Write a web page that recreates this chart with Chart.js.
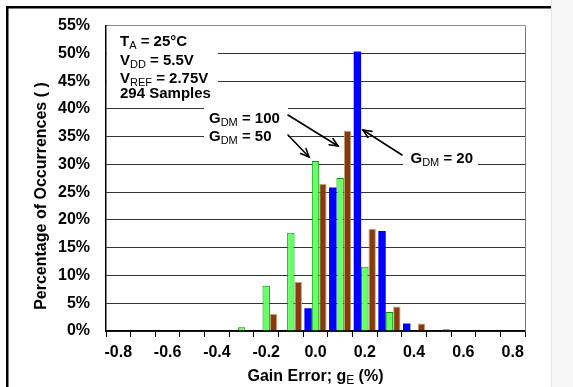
<!DOCTYPE html>
<html><head><meta charset="utf-8">
<script src="https://cdn.jsdelivr.net/npm/chart.js@4"></script>
<style>html,body{margin:0;padding:0;background:#fff;}canvas{display:block;}</style>
</head><body>
<canvas id="c" width="573" height="387"></canvas>
<script>
// ---- data ----
const categories = ['-0.8','-0.7','-0.6','-0.5','-0.4','-0.3','-0.2','-0.1','0.0','0.1','0.2','0.3','0.4','0.5','0.6','0.7','0.8'];
const tickLabels = ['-0.8','','-0.6','','-0.4','','-0.2','','0.0','','0.2','','0.4','','0.6','','0.8'];
const gdm20  = [null,null,null,null,null,null,null,null,4.08,25.85,50.34,18.03,1.36,null,null,null,null];
const gdm50  = [null,null,null,null,null,0.68,8.16,17.69,30.61,27.55,11.56,3.40,null,null,null,null,null];
const gdm100 = [null,null,null,null,null,null,3.06,8.84,26.53,36.05,18.37,4.42,1.36,0.34,null,null,null];
const yMin = 0, yMax = 55, yStep = 5;

const FONT = '"Liberation Sans", Arial, sans-serif';

function drawRich(c, x, y, parts, size, align) {
  const mainF = `bold ${size}px ${FONT}`;
  const subF = `${Math.round(size*0.72)}px ${FONT}`;
  let w = 0;
  parts.forEach(p => { c.font = p[1] ? subF : mainF; w += c.measureText(p[0]).width; });
  let cx = align === 'center' ? x - w/2 : x;
  c.textAlign = 'left'; c.textBaseline = 'alphabetic';
  parts.forEach(p => {
    c.font = p[1] ? subF : mainF;
    c.fillText(p[0], cx, p[1] ? y + 3 : y);
    cx += c.measureText(p[0]).width;
  });
}
function arrow(c, x1, y1, x2, y2) {
  c.beginPath(); c.moveTo(x1, y1); c.lineTo(x2, y2); c.stroke();
  const a = Math.atan2(y2 - y1, x2 - x1), L = 9, s = 0.42;
  c.beginPath();
  c.moveTo(x2 - L*Math.cos(a - s), y2 - L*Math.sin(a - s));
  c.lineTo(x2, y2);
  c.lineTo(x2 - L*Math.cos(a + s), y2 - L*Math.sin(a + s));
  c.stroke();
}

const framePlugin = {
  id: 'frame',
  beforeDraw(chart) {
    const c = chart.ctx; c.save();
    c.fillStyle = '#fff'; c.fillRect(0, 0, 573, 387);
    c.fillStyle = '#f7f7f7'; c.fillRect(552, 0, 21, 387);
    c.fillStyle = '#e4e4e4'; c.fillRect(551, 0, 1, 387);
    c.fillStyle = '#000'; c.fillRect(6, 6, 545, 2.5); c.fillRect(6, 6, 2.5, 381);
    c.restore();
  },
  beforeDatasetsDraw(chart) {
    const c = chart.ctx, a = chart.chartArea; c.save();
    c.fillStyle = '#fff';
    c.fillRect(a.left + 1, a.top + 1, 111, 77);
    c.fillRect(204, 103, 84, 43);
    c.fillRect(403, 147, 75, 22);
    c.strokeStyle = '#777'; c.lineWidth = 1;
    c.beginPath(); c.moveTo(a.right + 0.5, a.top); c.lineTo(a.right + 0.5, a.bottom); c.stroke();
    c.restore();
  },
  afterDraw(chart) {
    const c = chart.ctx, a = chart.chartArea; c.save();
    c.fillStyle = '#000';
    drawRich(c, 120, 46, [['T',0],['A',1],[' = 25°C',0]], 15);
    drawRich(c, 120, 64.5, [['V',0],['DD',1],[' = 5.5V',0]], 15);
    drawRich(c, 120, 82.5, [['V',0],['REF',1],[' = 2.75V',0]], 15);
    drawRich(c, 120, 97.5, [['294 Samples',0]], 15);
    drawRich(c, 209, 122.5, [['G',0],['DM',1],[' = 100',0]], 15);
    drawRich(c, 209, 140.5, [['G',0],['DM',1],[' = 50',0]], 15);
    drawRich(c, 410.5, 162.5, [['G',0],['DM',1],[' = 20',0]], 15);
    c.strokeStyle = '#000'; c.lineWidth = 1.6; c.lineCap = 'round';
    arrow(c, 288, 115, 338, 146);
    arrow(c, 288, 135, 309, 157);
    arrow(c, 402, 155, 363, 130);
    // axis titles
    drawRich(c, (a.left + a.right)/2, 381, [['Gain Error; g',0],['E',1],[' (%)',0]], 16, 'center');
    c.translate(46, 196); c.rotate(-Math.PI/2);
    c.font = `bold 16px ${FONT}`; c.textAlign = 'center'; c.textBaseline = 'alphabetic';
    c.fillText('Percentage of Occurrences ( )', 0, 0);
    c.restore();
  }
};

new Chart(document.getElementById('c'), {
  type: 'bar',
  data: {
    labels: categories,
    datasets: [
      { label: 'GDM = 20', data: gdm20, backgroundColor: '#0000ff', borderWidth: 0 },
      { label: 'GDM = 50', data: gdm50, backgroundColor: '#66ff66', borderColor: '#009900', borderWidth: 1 },
      { label: 'GDM = 100', data: gdm100, backgroundColor: '#843c0c', borderColor: '#c8a07c', borderWidth: 1 }
    ]
  },
  options: {
    responsive: false, animation: false, devicePixelRatio: 1,
    layout: { padding: { left: 0, right: 48, top: 22, bottom: 0 } },
    plugins: { legend: { display: false }, tooltip: { enabled: false } },
    datasets: { bar: { categoryPercentage: 0.9, barPercentage: 1.0 } },
    scales: {
      x: {
        type: 'category', offset: true,
        grid: { offset: true, drawOnChartArea: false, drawTicks: true, tickLength: 6, color: '#000', lineWidth: 1 },
        border: { color: '#000', width: 1.5 },
        ticks: { autoSkip: false, maxRotation: 0, minRotation: 0, padding: 6, color: '#000',
          font: { family: FONT, size: 16, weight: 'bold' },
          callback: (v, i) => tickLabels[i] },
        afterFit: s => { s.height = 56; }
      },
      y: {
        min: yMin, max: yMax,
        grid: { drawTicks: false, lineWidth: 1,
          color: ctx => ctx.tick && ctx.tick.value === yMax ? '#888' : '#333' },
        border: { color: '#000', width: 1.5 },
        ticks: { stepSize: yStep, padding: 16, color: '#000',
          font: { family: FONT, size: 16, weight: 'bold' },
          callback: v => v + '%' },
        afterFit: s => { s.width = 106; }
      }
    }
  },
  plugins: [framePlugin]
});
</script>
</body></html>
